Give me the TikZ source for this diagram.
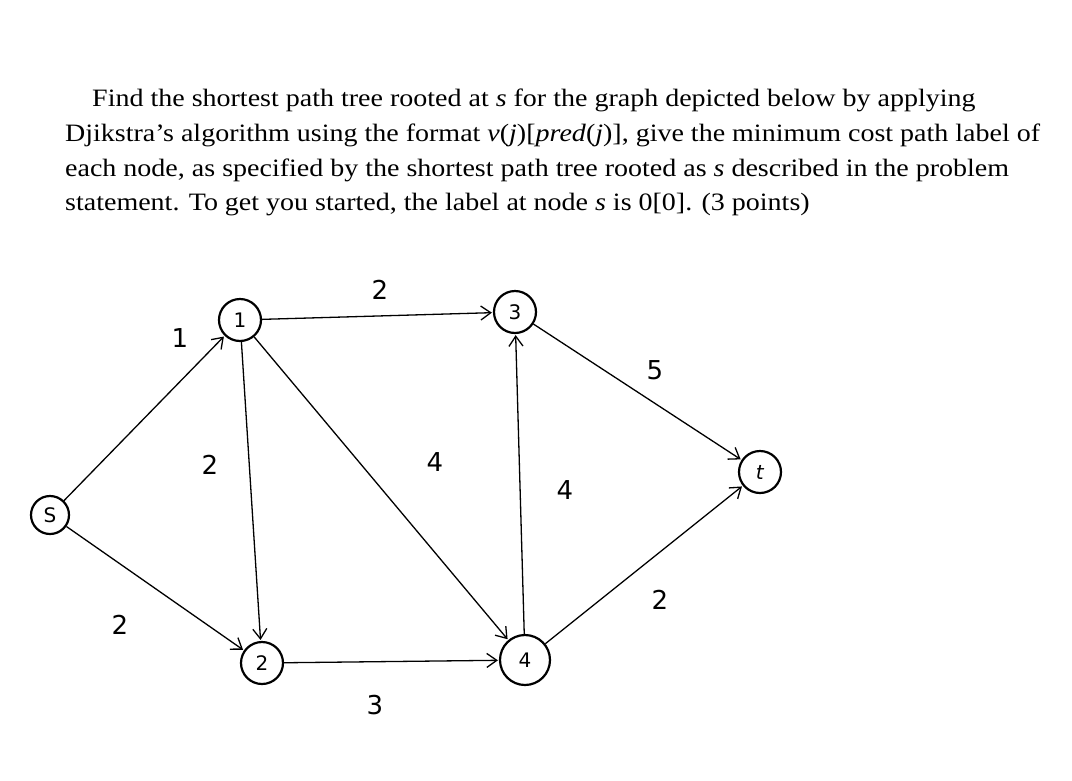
\documentclass[tikz,border=0pt]{standalone}
\usepackage{fontspec}
\setmainfont{Liberation Serif}
\newfontfamily\hand{DejaVu Sans}
\usetikzlibrary{arrows.meta}
\newcommand{\wide}[1]{\scalebox{1.12}[1]{#1}}
\begin{document}
\begin{tikzpicture}[x=1pt,y=-1pt,
  vtx/.style={circle,draw,line width=2.2pt,minimum size=42pt,inner sep=0pt,font=\hand\fontsize{20}{20}\selectfont},
  edge/.style={-{Straight Barb[length=10pt,width=14pt]},line width=1.3pt,shorten >=1pt},
  wt/.style={font=\hand\fontsize{26}{26}\selectfont},
  line/.style={anchor=west,inner sep=0pt,font=\fontsize{25}{25}\selectfont}]
\useasboundingbox (0,0) rectangle (1072,780);
\node[line] (l1) at (92,100) {\wide{Find the shortest path tree rooted at \textit{s} for the graph depicted below by applying}};
\node[line] (l2) at (65,135) {\wide{Djikstra’s algorithm using the format \textit{v}(\textit{j})[\textit{pred}(\textit{j})], give the minimum cost path label of}};
\node[line] (l3) at (65,170) {\wide{each node, as specified by the shortest path tree rooted as \textit{s} described in the problem}};
\node[line] (l4) at (65,205) {\wide{statement. To get you started, the label at node \textit{s} is 0[0]. (3 points)}};
\node[vtx,minimum size=38pt] (s) at (50,515) {S};
\node[vtx] (n1) at (240,320) {1};
\node[vtx] (n2) at (262,663) {2};
\node[vtx] (n3) at (515,312) {3};
\node[vtx,minimum size=50pt] (n4) at (525,660) {4};
\node[vtx] (t) at (760,472) {\textit{t}};
\draw[edge] (s) -- (n1);
\draw[edge] (s) -- (n2);
\draw[edge] (n1) -- (n3);
\draw[edge] (n1) -- (n2);
\draw[edge] (n1) -- (n4);
\draw[edge] (n3) -- (t);
\draw[edge] (n4) -- (n3);
\draw[edge] (n2) -- (n4);
\draw[edge] (n4) -- (t);
\node[wt] (w1) at (180,338) {1};
\node[wt] (w2) at (380,290) {2};
\node[wt] (w3) at (655,370) {5};
\node[wt] (w4) at (210,465) {2};
\node[wt] (w5) at (435,462) {4};
\node[wt] (w6) at (565,490) {4};
\node[wt] (w7) at (120,625) {2};
\node[wt] (w8) at (375,705) {3};
\node[wt] (w9) at (660,600) {2};
\end{tikzpicture}
\end{document}
